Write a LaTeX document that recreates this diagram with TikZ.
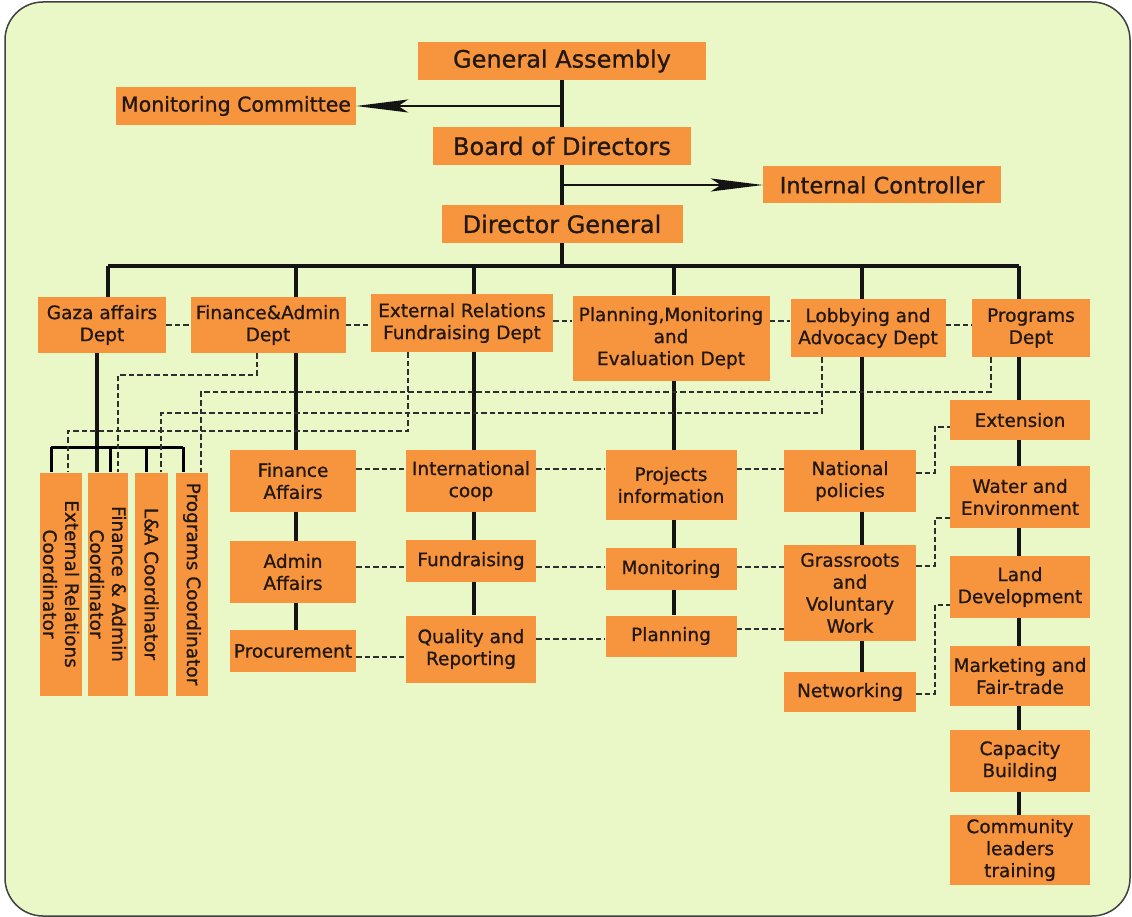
\documentclass[tikz,border=0pt]{standalone}
\usepackage{fontspec}
\setmainfont{DejaVu Sans}[FakeBold=0.9]
\usetikzlibrary{arrows.meta,calc}
\definecolor{bgc}{HTML}{EAF8C8}
\definecolor{orgc}{HTML}{F7953F}
\definecolor{txtc}{HTML}{221810}
\begin{document}
\begin{tikzpicture}[x=1pt,y=-1pt,
  box/.style={fill=orgc, text=txtc, inner sep=0pt, align=center,
    font=\fontsize{18.5}{22}\selectfont},
  big/.style={box, font=\fontsize{24}{28}\selectfont},
  main/.style={line width=3.8pt, draw=black!92},
  dsh/.style={line width=2pt, draw=black!82, dash pattern=on 5.5pt off 3pt},
  arr/.style={line width=2pt, draw=black!92, -{Stealth[length=52pt,width=13pt,inset=10pt]}}
]
\useasboundingbox (0,0) rectangle (1132,917);
\fill[white] (0,0) rectangle (1132,917);
\draw[fill=bgc, draw=black!75, line width=1.5pt, rounded corners=38pt] (5,2) rectangle (1130,916);

% top
\node[big, minimum width=288, minimum height=38] (ga) at (562,61) {General Assembly};
\node[box, font=\fontsize{20.5}{24}\selectfont, minimum width=240, minimum height=38] (mc) at (236,106) {Monitoring Committee};
\node[big, minimum width=258, minimum height=38] (bd) at (562,146) {Board of Directors};
\node[box, font=\fontsize{22.5}{26}\selectfont, minimum width=238, minimum height=37] (ic) at (882,185) {Internal Controller};
\node[big, minimum width=241, minimum height=38] (dg) at (562,224) {Director General};

% level 2
\node[box, minimum width=128, minimum height=56] (gz) at (102,325) {Gaza affairs\\Dept};
\node[box, minimum width=155, minimum height=56] (fa) at (268,325) {Finance\&Admin\\Dept};
\node[box, minimum width=182, minimum height=58] (er) at (462,323) {External Relations\\Fundraising Dept};
\node[box, minimum width=197, minimum height=85] (pm) at (671,338) {Planning,Monitoring\\and\\Evaluation Dept};
\node[box, minimum width=155, minimum height=58] (la) at (868,328) {Lobbying and\\Advocacy Dept};
\node[box, minimum width=118, minimum height=58] (pd) at (1031,328) {Programs\\Dept};

% coordinators (rotated)
\node[box, rotate=-90, minimum width=223, minimum height=42] (erc) at (61,584) {External Relations\\Coordinator};
\node[box, rotate=-90, minimum width=223, minimum height=40] (fac) at (108,584) {Finance \& Admin\\Coordinator};
\node[box, rotate=-90, minimum width=223, minimum height=33] (lac) at (151.5,584) {L\&A Coordinator};
\node[box, rotate=-90, minimum width=223, minimum height=32] (pcc) at (192,584) {Programs Coordinator};

% column finance
\node[box, minimum width=126, minimum height=62] (fin) at (293,481) {Finance\\Affairs};
\node[box, minimum width=126, minimum height=62] (adm) at (293,572) {Admin\\Affairs};
\node[box, minimum width=126, minimum height=42] (pro) at (293,651) {Procurement};

% column external
\node[box, minimum width=130, minimum height=62] (ico) at (471,481) {International\\coop};
\node[box, minimum width=130, minimum height=42] (fr) at (471,561) {Fundraising};
\node[box, minimum width=130, minimum height=67] (qr) at (471,649) {Quality and\\Reporting};

% column planning
\node[box, minimum width=131, minimum height=70] (prj) at (671,485) {Projects\\information};
\node[box, minimum width=131, minimum height=42] (mon) at (671,569) {Monitoring};
\node[box, minimum width=131, minimum height=41] (pln) at (671,636) {Planning};

% column lobbying
\node[box, minimum width=132, minimum height=62] (np) at (850,481) {National\\policies};
\node[box, minimum width=132, minimum height=96] (gr) at (850,593) {Grassroots\\and\\Voluntary\\Work};
\node[box, minimum width=132, minimum height=40] (net) at (850,692) {Networking};

% column programs
\node[box, minimum width=140, minimum height=40] (ext) at (1020,420) {Extension};
\node[box, minimum width=140, minimum height=62] (wat) at (1020,497) {Water and\\Environment};
\node[box, minimum width=140, minimum height=62] (lnd) at (1020,587) {Land\\Development};
\node[box, minimum width=140, minimum height=60] (mkt) at (1020,676) {Marketing and\\Fair-trade};
\node[box, minimum width=140, minimum height=62] (cap) at (1020,761) {Capacity\\Building};
\node[box, minimum width=140, minimum height=70] (com) at (1020,850) {Community\\leaders\\training};

% main spine
\draw[main] (ga.south) -- (bd.north);
\draw[main] (bd.south) -- (dg.north);
\draw[arr] (ga.south |- mc.east) -- (mc.east);
\draw[arr] (bd.south |- ic.west) -- (ic.west);

\coordinate (bar) at (562,266);
\coordinate (b1) at (108,266);
\coordinate (b2) at (296,266);
\coordinate (b3) at (474,266);
\coordinate (b4) at (674,266);
\coordinate (b5) at (862,266);
\coordinate (b6) at (1019,266);
\draw[main] (dg.south) -- (bar);
\draw[main, line width=3.2pt] (b1) -- (b6);
\draw[main] (b1) -- (b1 |- gz.north);
\draw[main] (b2) -- (b2 |- fa.north);
\draw[main] (b3) -- (b3 |- er.north);
\draw[main] (b4) -- (b4 |- pm.north);
\draw[main] (b5) -- (b5 |- la.north);
\draw[main] (b6) -- (b6 |- pd.north);

% gaza coordinators
\coordinate (g1) at (97,447);
\coordinate (cb1) at (51,447);
\coordinate (cb2) at (110,447);
\coordinate (cb3) at (146,447);
\coordinate (cb4) at (183,447);
\draw[main] (g1 |- gz.south) -- (g1 |- fac.west);
\draw[line width=3pt] (cb1) -- (cb4);
\draw[line width=3pt] (cb1) -- (cb1 |- erc.west);
\draw[line width=3pt] (cb2) -- (cb2 |- fac.west);
\draw[line width=3pt] (cb3) -- (cb3 |- lac.west);
\draw[line width=3pt] (cb4) -- (cb4 |- pcc.west);

% vertical chains
\draw[main] (b2 |- fa.south) -- (b2 |- fin.north);
\draw[main] (b2 |- fin.south) -- (b2 |- adm.north);
\draw[main] (b2 |- adm.south) -- (b2 |- pro.north);
\draw[main] (b3 |- er.south) -- (b3 |- ico.north);
\draw[main] (b3 |- ico.south) -- (b3 |- fr.north);
\draw[main] (b3 |- fr.south) -- (b3 |- qr.north);
\draw[main] (b4 |- pm.south) -- (b4 |- prj.north);
\draw[main] (b4 |- prj.south) -- (b4 |- mon.north);
\draw[main] (b4 |- mon.south) -- (b4 |- pln.north);
\draw[main] (b5 |- la.south) -- (b5 |- np.north);
\draw[main] (b5 |- np.south) -- (b5 |- gr.north);
\draw[main] (b5 |- gr.south) -- (b5 |- net.north);
\draw[main] (b6 |- pd.south) -- (b6 |- ext.north);
\draw[main] (b6 |- ext.south) -- (b6 |- wat.north);
\draw[main] (b6 |- wat.south) -- (b6 |- lnd.north);
\draw[main] (b6 |- lnd.south) -- (b6 |- mkt.north);
\draw[main] (b6 |- mkt.south) -- (b6 |- cap.north);
\draw[main] (b6 |- cap.south) -- (b6 |- com.north);

% dashed between level 2
\coordinate (y2) at (0,325);
\coordinate (y2b) at (0,321);
\draw[dsh] (gz.east |- y2) -- (fa.west |- y2);
\draw[dsh] (fa.east |- y2) -- (er.west |- y2);
\draw[dsh] (er.east |- y2b) -- (pm.west |- y2b);
\draw[dsh] (pm.east |- y2b) -- (la.west |- y2b);
\draw[dsh] (la.east |- y2) -- (pd.west |- y2);

% dashed to coordinators
\coordinate (d1) at (257,375);
\coordinate (d2) at (991,392);
\coordinate (d3) at (822,413);
\coordinate (d4) at (408,431);
\coordinate (xfa) at (118,0);
\coordinate (xpc) at (201,0);
\coordinate (xla) at (161,0);
\coordinate (xer) at (68,0);
\draw[dsh] (d1 |- fa.south) -- (d1) -| (xfa |- fac.west);
\draw[dsh] (d2 |- pd.south) -- (d2) -| (xpc |- pcc.west);
\draw[dsh] (d3 |- la.south) -- (d3) -| (xla |- lac.west);
\draw[dsh] (d4 |- er.south) -- (d4) -| (xer |- erc.west);

% dashed between columns
\coordinate (r1) at (0,469);
\coordinate (r2) at (0,567);
\coordinate (r3) at (0,657);
\coordinate (r3b) at (0,639);
\coordinate (r3c) at (0,629);
\draw[dsh] (fin.east |- r1) -- (ico.west |- r1);
\draw[dsh] (ico.east |- r1) -- (prj.west |- r1);
\draw[dsh] (prj.east |- r1) -- (np.west |- r1);
\draw[dsh] (adm.east |- r2) -- (fr.west |- r2);
\draw[dsh] (fr.east |- r2) -- (mon.west |- r2);
\draw[dsh] (mon.east |- r2) -- (gr.west |- r2);
\draw[dsh] (pro.east |- r3) -- (qr.west |- r3);
\draw[dsh] (qr.east |- r3b) -- (pln.west |- r3b);
\draw[dsh] (pln.east |- r3c) -- (gr.west |- r3c);

% dashed to programs column
\coordinate (k1) at (935,427);
\coordinate (k2) at (935,518);
\coordinate (k3) at (935,605);
\coordinate (s1) at (0,473);
\coordinate (s2) at (0,566);
\coordinate (s3) at (0,694);
\draw[dsh] (np.east |- s1) -| (k1) -- (k1 -| ext.west);
\draw[dsh] (gr.east |- s2) -| (k2) -- (k2 -| wat.west);
\draw[dsh] (net.east |- s3) -| (k3) -- (k3 -| lnd.west);
\end{tikzpicture}
\end{document}
